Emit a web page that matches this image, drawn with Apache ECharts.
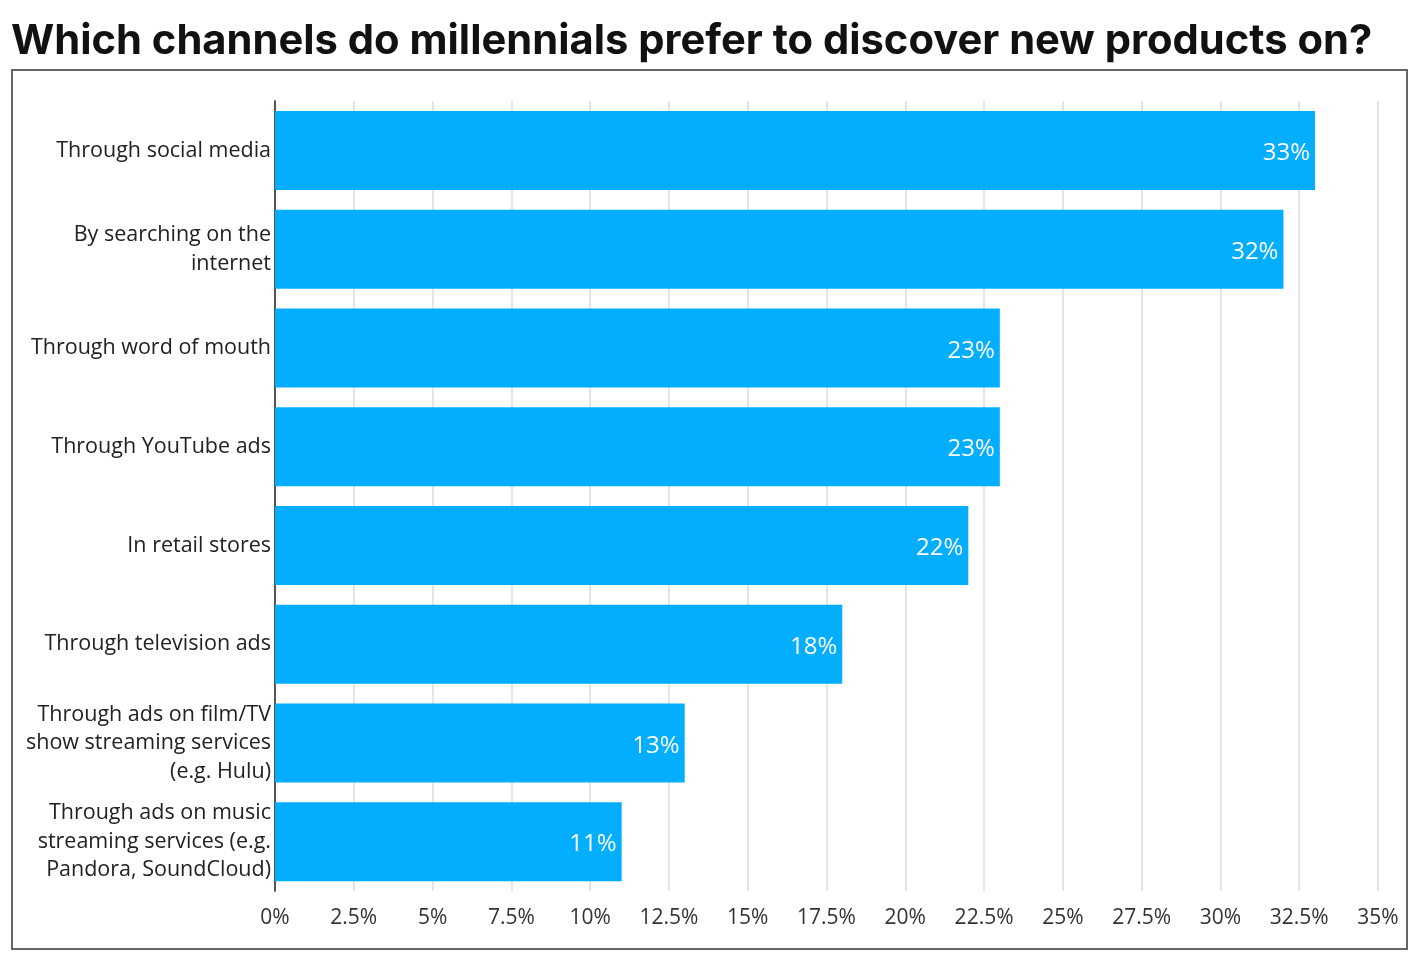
<!DOCTYPE html>
<html><head><meta charset="utf-8">
<script src="https://cdn.jsdelivr.net/npm/echarts@6/dist/echarts.min.js"></script>
<style>html,body{margin:0;padding:0;background:#fff}#c{width:1423px;height:958px}</style>
</head><body><div id="c"></div>
<script>
const categories = [
  "Through social media",
  "By searching on the\ninternet",
  "Through word of mouth",
  "Through YouTube ads",
  "In retail stores",
  "Through television ads",
  "Through ads on film/TV\nshow streaming services\n(e.g. Hulu)",
  "Through ads on music\nstreaming services (e.g.\nPandora, SoundCloud)"
];
const values = [33, 32, 23, 23, 22, 18, 13, 11];
const tickStep = 2.5;

const chart = echarts.init(document.getElementById('c'));
chart.setOption({
  animation: false,
  title: {
    text: 'Which channels do millennials prefer to discover new products on?',
    left: 6, top: 15,
    textStyle: { fontFamily: 'Inter', fontWeight: 'bold', fontSize: 41.7, color: '#111' }
  },
  graphic: [{
    type: 'rect',
    shape: { x: 12, y: 70, width: 1395, height: 879 },
    style: { fill: 'none', stroke: '#666', lineWidth: 2 }
  }],
  grid: { left: 275, right: 45, top: 101, bottom: 67 },
  xAxis: {
    type: 'value', min: 0, max: 35, interval: tickStep,
    axisLine: { show: false }, axisTick: { show: false },
    splitLine: { lineStyle: { color: '#dcdcdc', width: 1.5 } },
    axisLabel: { formatter: v => v + '%', fontFamily: 'Open Sans', fontSize: 21, color: '#333', margin: 17 }
  },
  yAxis: {
    type: 'category', data: categories, inverse: true,
    axisLine: { show: true, lineStyle: { color: '#555', width: 2 } },
    axisTick: { show: false },
    axisLabel: { fontFamily: 'Open Sans', fontSize: 21.5, color: '#222', margin: 4, lineHeight: 28.5, align: 'right',
      rich: {} }
  },
  series: [{
    type: 'bar', data: values, barCategoryGap: '20%',
    itemStyle: { color: '#03AEFF' },
    label: { show: true, position: 'insideRight', formatter: p => p.value + '%', color: '#fff', fontFamily: 'Open Sans', fontSize: 24, distance: 5, offset: [0, 3] }
  }]
});
</script></body></html>
